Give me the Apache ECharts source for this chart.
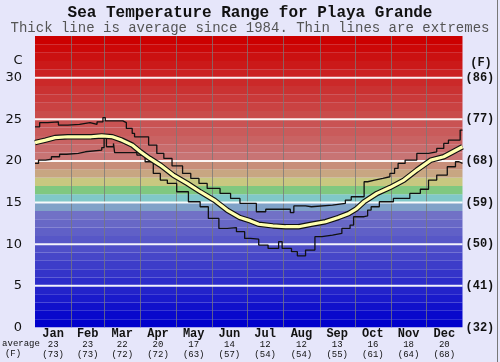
<!DOCTYPE html>
<html><head><meta charset="utf-8">
<script src="https://cdn.jsdelivr.net/npm/echarts@6/dist/echarts.min.js"></script>
<style>html,body{margin:0;padding:0;background:#e6e6fa}#c{width:500px;height:362px}</style>
</head><body><div id="c"></div>
<script>
// ---- data ----
const months = ['Jan','Feb','Mar','Apr','May','Jun','Jul','Aug','Sep','Oct','Nov','Dec'];
const monthMidDays = [15.5, 45, 74.5, 105, 135.5, 166, 196.5, 227.5, 258, 288.5, 319, 349.5];
const monthStartDays = [31, 59, 90, 120, 151, 181, 212, 243, 273, 304, 334];
const avgC = ['23','23','22','20','17','14','12','12','13','16','18','20'];
const avgF = ['73','73','72','72','63','57','54','54','55','61','64','68'];
const yTicksF = ['32','41','50','59','68','77','86'];
const whiteLines = [5, 10, 15, 20, 25, 30];
const bandDegrees = [0,1,2,3,4,5,6,7,8,9,10,11,12,13,14,15,16,17,18,19,20,21,22,23,24,25,26,27,28,29,30,31,32,33,34];

// [day of year, °C]
const maxTemp = [[0,24.1],[4,24.6],[11,24.7],[20,24.3],[28,24.4],[38,24.6],[47,24.4],[53,24.7],[58,25.2],[60,24.8],[75,24.6],[78,23.9],[83,23.3],[85,22.9],
  [97,21.9],[104,20.9],[110,20.3],[117,19.4],[126,18.5],[133,17.9],[140,17.3],[147,16.7],[158,16.1],[167,15.5],[175,14.9],
  [189,13.9],[197,14.2],[218,13.8],[221,14.6],[231,14.5],[236,14.7],[254,14.9],[265,15.3],[270,15.7],
  [281,17.5],[284,17.7],[290,17.9],[297,18.1],[303,18.5],[307,19.1],[310,19.7],[316,20.1],[326,20.9],[336,21.1],[343,21.5],[349,22.1],[353,22.5],[363,23.7],[365,23.7]];
const minTemp = [[0,19.7],[3,20.1],[9,20.2],[14,20.5],[21,20.8],[27,20.9],[37,21.1],[43,21.3],[57,21.6],[59,22.7],[61,21.7],[67,22.1],[68,21.0],[87,20.7],
  [94,19.9],[101,18.5],[107,17.7],[113,17.3],[121,16.3],[131,15.1],[141,14.5],[148,13.1],[157,11.9],[164,12.0],[172,11.5],
  [179,10.7],[184,10.6],[191,9.9],[199,9.5],[208,10.3],[211,9.5],[219,9.1],[224,8.6],[231,9.3],[239,10.9],[245,11.1],[254,11.3],[262,11.9],[269,12.3],
  [272,13.3],[281,13.4],[284,14.1],[287,14.5],[294,15.1],[306,15.5],[320,16.1],[329,16.6],[336,17.7],[343,18.3],[352,19.3],[359,19.9],[362,19.7],[365,19.7]];
const meanTemp = [[0,22.2],[9,22.5],[17,22.8],[28,22.9],[37,22.9],[48,22.9],[57,23.0],[66,22.9],[74,22.5],[83,21.9],[90,21.1],[98,20.3],[107,19.5],[118,18.3],
  [130,17.3],[141,16.3],[153,15.3],[164,14.1],[175,13.2],[184,12.8],[191,12.4],[203,12.2],[214,12.1],[225,12.1],[236,12.4],[248,12.7],[259,13.2],[268,13.7],
  [274,14.2],[281,15.1],[292,16.1],[303,16.8],[315,17.7],[326,18.9],[338,20.1],[349,20.5],[357,21.1],[365,21.7]];

// ---- styles ----
function rgb(r,g,b){return 'rgb('+r+','+g+','+b+')';}
function bandColor(d){
  if (d >= 20){ const t=(d-20)/14; const gb=Math.round(116*(1-t)); return rgb(Math.round(200+4*t), gb, gb); }
  const fixed = {19:'#c88e7a',18:'#c8a682',17:'#c8c880',16:'#80c880',15:'#80c8c8',14:'#80a2c8'};
  if (fixed[d]) return fixed[d];
  const v = Math.round(d*8.7); return rgb(v, v, Math.round(204-d*0.5));
}
const mono = '"Liberation Mono", "DejaVu Sans Mono", monospace';

const chart = echarts.init(document.getElementById('c'), null, {renderer:'canvas'});
chart.setOption({
  backgroundColor: '#e6e6fa',
  animation: false,
  grid: {left: 35, right: 37.5, top: 36, bottom: 34.5},
  xAxis: {
    type: 'value', min: 0, max: 365,
    axisLine: {show:false}, axisTick: {show:false}, splitLine: {show:false},
    axisLabel: {
      customValues: monthMidDays, margin: 1,
      formatter: function(v){ const i = monthMidDays.indexOf(v); return '{m|'+months[i]+'}\n{n|'+avgC[i]+'}\n{n|('+avgF[i]+')}'; },
      rich: {
        m: {fontFamily: mono, fontWeight:'bold', fontSize:12, lineHeight:11, color:'#111'},
        n: {fontFamily: mono, fontSize:9, lineHeight:10, color:'#111'}
      }
    }
  },
  yAxis: [
    {type:'value', min:0, max:35, interval:5, position:'left',
     axisLine:{show:false}, axisTick:{show:false}, splitLine:{show:false},
     axisLabel:{margin:13, fontFamily:'"DejaVu Sans", sans-serif', fontSize:13, color:'#111',
       formatter: function(v){ return v===35 ? '' : String(v); }}},
    {type:'value', min:0, max:35, interval:5, position:'right',
     axisLine:{show:false}, axisTick:{show:false}, splitLine:{show:false},
     axisLabel:{margin:3, fontFamily: mono, fontWeight:'bold', fontSize:12, color:'#111',
       formatter: function(v){ return v===35 ? '' : '('+yTicksF[v/5]+')'; }}}
  ],
  graphic: [
    {type:'text', left:'center', top:5, style:{text:'Sea Temperature Range for Playa Grande', font:'bold 16px '+mono, fill:'#111'}},
    {type:'text', x:250, y:28.5, style:{text:'Thick line is average since 1984. Thin lines are extremes', font:'14px '+mono, fill:'#555', textAlign:'center', textVerticalAlign:'middle'}},
    {type:'text', x:18, y:61, style:{text:'C', font:'13px "DejaVu Sans", sans-serif', fill:'#111', textAlign:'center', textVerticalAlign:'middle'}},
    {type:'text', x:481, y:63, style:{text:'(F)', font:'bold 12px '+mono, fill:'#111', textAlign:'center', textVerticalAlign:'middle'}},
    {type:'text', x:21, y:344, style:{text:'average', font:'9px '+mono, fill:'#111', textAlign:'center', textVerticalAlign:'middle'}},
    {type:'text', x:13, y:354, style:{text:'(F)', font:'9px '+mono, fill:'#111', textAlign:'center', textVerticalAlign:'middle'}},
    {type:'line', shape:{x1:497.5, y1:0, x2:497.5, y2:362}, style:{stroke:'#777', lineWidth:1}}
  ],
  series: [
    {type:'custom', z:0, silent:true, clip:true, data: bandDegrees.map(d=>[d]),
     renderItem: function(params, api){
       const d = api.value(0);
       const p0 = api.coord([0, d+1]), p1 = api.coord([365, d]);
       return {type:'rect', shape:{x:p0[0], y:p0[1], width:p1[0]-p0[0], height:p1[1]-p0[1]}, style:{fill: bandColor(d)}};
     }},
    {type:'custom', z:1, silent:true, clip:true, data: monthStartDays.map(d=>[d]),
     renderItem: function(params, api){
       const d = api.value(0);
       const p0 = api.coord([d, 0]), p1 = api.coord([d, 35]);
       const x = Math.round(p0[0]) + 0.5;
       return {type:'line', shape:{x1:x, y1:p0[1], x2:x, y2:p1[1]}, style:{stroke:'rgba(120,120,120,0.75)', lineWidth:1}};
     }},
    {type:'custom', z:1, silent:true, clip:true, data: whiteLines.map(v=>[v]),
     renderItem: function(params, api){
       const v = api.value(0);
       const p0 = api.coord([0, v]), p1 = api.coord([365, v]);
       return {type:'line', shape:{x1:p0[0], y1:p0[1], x2:p1[0], y2:p1[1]}, style:{stroke:'rgba(255,255,255,0.92)', lineWidth:2}};
     }},
    {type:'line', z:3, data: maxTemp, step:'end', symbol:'none', lineStyle:{color:'#111', width:1.3}},
    {type:'line', z:3, data: minTemp, step:'end', symbol:'none', lineStyle:{color:'#111', width:1.3}},
    {type:'line', z:4, data: meanTemp, symbol:'none', lineStyle:{color:'#111', width:5.5}},
    {type:'line', z:5, data: meanTemp, symbol:'none', lineStyle:{color:'#ffffb0', width:3.2}}
  ]
});
</script></body></html>
